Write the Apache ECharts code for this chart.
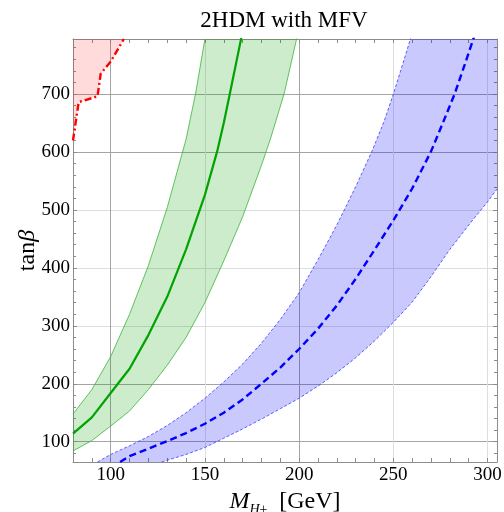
<!DOCTYPE html>
<html><head><meta charset="utf-8">
<script src="https://cdn.jsdelivr.net/npm/echarts@6/dist/echarts.min.js"></script>
<style>html,body{margin:0;padding:0;background:#fff}#c{width:504px;height:512px}</style>
</head><body><div id="c"></div>
<script>
// ---- text ----
const titleText = '2HDM with MFV';
const xName = '{m|M}{s|H±}{n|  [GeV]}';
const yName = '{t|tan}{b|β}';
// ---- axes ----
const xMin = 80, xMax = 305, xStep = 10;
const yMin = 65, yMax = 795;
const xDarkGrid = [100, 200];
const xLightGrid = [150, 250, 300];
const yDarkGrid = [100, 200, 600, 700];
const yLightGrid = [300, 400, 500];
// ---- data: [M_H, tanβ] ----
const greenCenter = [[80,114],[90,142],[100,184],[110,226],[120,284],[130,350],[140,432],[150,526],[156.5,601],[160,650],[163.2,700],[170,808]];
const greenUpper  = [[80,148],[90,190],[100,247],[110,320],[120,404],[130,504],[140,622],[145,700],[150,795]];
const greenLower  = [[80,84],[90,102],[100,127],[110,153],[120,190],[130,232],[140,280],[150,340],[160,412],[170,488],[180,577],[185,625],[192,700],[199,800]];
const blueCenter  = [[105,65],[110,75],[120,88],[130,101],[140,115],[150,131],[160,150],[170,173],[180,200],[190,228],[200,260],[210,295],[220,335],[230,381],[240,431],[250,482],[260,537],[270,601],[276,648],[282.5,700],[288,752],[294,810]];
const blueUpper   = [[93,65],[100,78],[110,93],[120,109],[130,128],[140,150],[150,175],[160,203],[170,234],[180,270],[190,311],[200,357],[210,414],[220,474],[230,540],[238.6,601],[245,652],[250,700],[255,752],[260,805]];
const blueLower   = [[127,65],[130,68],[140,78],[150,90],[160,106],[170,122],[180,139],[190,157],[200,175],[210,196],[220,219],[230,245],[240,274],[250,306],[260,341],[270,385],[280,432],[290,474],[300,514],[305,536]];
const redEdge     = [[80,620],[83,686],[93,696],[94.7,735],[100,756],[107,795]];

const FONT = 'Liberation Serif';
const DARK = '#a4a4a4', LIGHT = '#dedede', NONE = 'rgba(0,0,0,0)', FRAME = '#8c8c8c';

function xGridColors() {
  const arr = [];
  for (let v = xMin; v <= xMax; v += xStep) {
    arr.push(xDarkGrid.includes(v) ? DARK : (xLightGrid.includes(v) ? LIGHT : NONE));
  }
  arr.push(NONE);
  return arr;
}
function yGridColors() {
  const arr = [NONE];
  for (let v = 100; v <= 700; v += 100) {
    arr.push(yDarkGrid.includes(v) ? DARK : (yLightGrid.includes(v) ? LIGHT : NONE));
  }
  arr.push(NONE);
  return arr;
}

function band(upper, lower, fill, corner) {
  return {
    type: 'custom', coordinateSystem: 'cartesian2d', clip: true, silent: true, z: 1,
    data: [upper[0]],
    renderItem: function (params, api) {
      let pts = upper.slice();
      if (corner) pts.push(corner);
      pts = pts.concat(lower.slice().reverse());
      return { type: 'polygon', shape: { points: pts.map(p => api.coord(p)) }, style: { fill: fill, stroke: 'none' } };
    }
  };
}
function line(data, color, width, type, z) {
  return { type: 'line', data: data, showSymbol: false, symbol: 'none', clip: true, silent: true, z: z || 3,
    lineStyle: { color: color, width: width, type: type || 'solid' } };
}

const chart = echarts.init(document.getElementById('c'), null, { renderer: 'canvas' });
chart.setOption({
  animation: false,
  backgroundColor: '#fff',
  grid: { left: 73, right: 7, top: 39, bottom: 50, containLabel: false, outerBoundsMode: 'none' },
  graphic: [{ type: 'text', x: 284, y: 21, style: { text: titleText, font: '23px "Liberation Serif"', fill: '#000', textAlign: 'center', textVerticalAlign: 'middle' } }],
  xAxis: [{
    type: 'value', min: xMin, max: xMax, interval: xStep, position: 'bottom',
    axisLine: { show: true, onZero: false, lineStyle: { color: FRAME, width: 1 } },
    axisTick: { show: true, inside: true, length: 4, lineStyle: { color: FRAME } },
    axisLabel: { margin: 4, fontFamily: FONT, fontSize: 19, color: '#000', formatter: v => (v % 50 === 0 && v >= 100 && v <= 300) ? String(v) : '' },
    splitLine: { show: true, lineStyle: { color: xGridColors(), width: 1 } },
    name: xName, nameLocation: 'middle', nameGap: 28, nameMoveOverlap: false,
    nameTextStyle: { fontFamily: FONT, fontSize: 24, color: '#000',
      rich: { m: { fontFamily: FONT, fontSize: 24, fontStyle: 'italic', padding: [0,0,3,0] },
              s: { fontFamily: FONT, fontSize: 14, fontStyle: 'italic', verticalAlign: 'bottom' },
              n: { fontFamily: FONT, fontSize: 24, padding: [0,0,3,0] } } }
  }, {
    type: 'value', min: xMin, max: xMax, interval: xStep, position: 'top',
    axisLine: { show: true, onZero: false, lineStyle: { color: FRAME, width: 1 } },
    axisTick: { show: true, inside: true, length: 4, lineStyle: { color: FRAME } },
    axisLabel: { show: false }, splitLine: { show: false }
  }],
  yAxis: [{
    type: 'value', min: yMin, max: yMax, splitNumber: 7, position: 'left',
    axisLine: { show: true, onZero: false, lineStyle: { color: FRAME, width: 1 } },
    axisTick: { show: true, inside: true, length: 4, lineStyle: { color: FRAME } },
    minorTick: { show: true, splitNumber: 5, length: 3, lineStyle: { color: FRAME } },
    axisLabel: { margin: 3, fontFamily: FONT, fontSize: 19, color: '#000', formatter: v => (v % 100 === 0) ? String(v) : '' },
    splitLine: { show: true, lineStyle: { color: yGridColors(), width: 1 } },
    name: yName, nameLocation: 'middle', nameGap: 33, nameMoveOverlap: false,
    nameTextStyle: { fontFamily: FONT, fontSize: 24, color: '#000',
      rich: { t: { fontFamily: FONT, fontSize: 24 }, b: { fontFamily: FONT, fontSize: 24, fontStyle: 'italic' } } }
  }, {
    type: 'value', min: yMin, max: yMax, splitNumber: 7, position: 'right',
    axisLine: { show: true, onZero: false, lineStyle: { color: FRAME, width: 1 } },
    axisTick: { show: true, inside: true, length: 4, lineStyle: { color: FRAME } },
    minorTick: { show: true, splitNumber: 5, length: 3, lineStyle: { color: FRAME } },
    axisLabel: { show: false }, splitLine: { show: false }
  }],
  series: [
    band(greenUpper, greenLower, 'rgba(0,160,0,0.2)'),
    band(blueUpper, blueLower, 'rgba(0,0,245,0.21)', [xMax + 5, yMax + 10]),
    Object.assign(line(redEdge, '#ff0000', 2.4, [7, 3, 2, 3], 4), { areaStyle: { origin: 'end', color: 'rgba(255,0,0,0.2)' } }),
    line(greenUpper, '#3cb43c', 0.8),
    line(greenLower, '#3cb43c', 0.8),
    line(greenCenter, '#00a300', 2.2, 'solid', 4),
    line(blueUpper, '#3a3aff', 0.8, [3, 2]),
    line(blueLower, '#3a3aff', 0.8, [3, 2]),
    line(blueCenter, '#0000ff', 2.4, [7, 4], 4)
  ]
});
</script></body></html>
